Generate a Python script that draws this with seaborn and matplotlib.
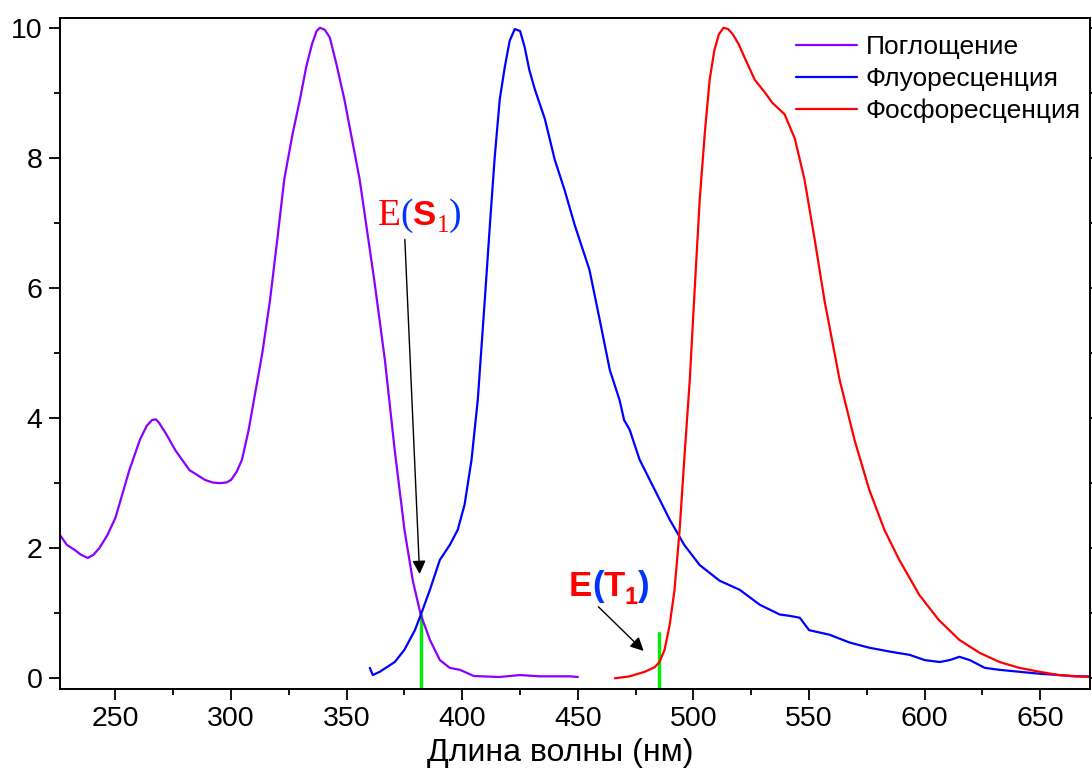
import matplotlib
matplotlib.use("Agg")
import matplotlib.pyplot as plt
import seaborn as sns
import pandas as pd

# ---- data ----
abs_x = [226, 229, 232.5, 235, 238, 240.5, 243, 246.5, 250, 256, 260.6, 263.5, 265.8, 267.5, 269,
         272, 276, 282, 288.7, 292, 295, 298, 300, 302.5, 304.7,
         307.5, 310, 313.5, 316.8, 320, 323, 326.5, 329.8, 332.5, 335, 337, 338.4, 340.5, 342.7,
         345.5, 349, 355.6, 362, 366.5, 370.8, 375, 378.6,
         382, 386, 390.3, 394.6, 399, 405, 416, 425, 433.6, 446.6, 450]
abs_y = [2.2, 2.05, 1.97, 1.9, 1.85, 1.9, 2.0, 2.2, 2.47, 3.2, 3.67, 3.88, 3.97, 3.98, 3.92,
         3.75, 3.5, 3.2, 3.05, 3.01, 3.0, 3.01, 3.05, 3.18, 3.36,
         3.8, 4.3, 5.0, 5.8, 6.75, 7.67, 8.35, 8.9, 9.4, 9.75, 9.95, 10.0, 9.97, 9.85,
         9.45, 8.9, 7.67, 6.1, 4.9, 3.5, 2.28, 1.5,
         0.98, 0.59, 0.28, 0.16, 0.13, 0.035, 0.02, 0.05, 0.03, 0.03, 0.02]

fl_x = [360, 361.3, 364.3, 370.8, 375, 379.5, 382.1, 386, 390.3, 394.6, 398, 401, 404, 406.7,
        409.7, 412, 414, 416.2, 418.4, 420.5, 422.7, 425, 427, 429, 431.4, 435.7, 440, 444.3, 448.6,
        455, 459.5, 463.8, 468, 470, 472.4, 476.7, 483.2, 489.7, 496, 502.7, 511.3, 520, 528.7,
        537.3, 541.6, 546, 550, 558.8, 567.5, 576, 585, 593.5, 600, 606.5, 610.8, 615, 619.5,
        626, 632.4, 641, 649.7, 658, 664.8, 671]
fl_y = [0.16, 0.05, 0.1, 0.25, 0.44, 0.74, 0.98, 1.36, 1.82, 2.05, 2.28, 2.67, 3.36, 4.28,
        5.8, 7.0, 8.0, 8.9, 9.4, 9.8, 9.98, 9.95, 9.7, 9.35, 9.05, 8.6, 7.97, 7.5, 6.97,
        6.28, 5.5, 4.74, 4.28, 3.97, 3.82, 3.36, 2.9, 2.44, 2.05, 1.74, 1.5, 1.36, 1.13,
        0.98, 0.96, 0.93, 0.74, 0.67, 0.55, 0.47, 0.41, 0.36, 0.28, 0.25, 0.28, 0.33, 0.28,
        0.16, 0.13, 0.1, 0.07, 0.05, 0.03, 0.03]

ph_x = [466, 472.4, 478.9, 483.2, 485.3, 487.5, 489.7, 491.8, 494, 496, 498.4, 500.5, 502.7,
        505, 507, 509, 511, 513, 515, 517, 519.5, 522, 526.5, 531, 534, 539.4, 543.8, 548, 552.4,
        556.7, 563.2, 569.6, 576, 582.6, 589, 597.7, 606, 615, 623.8, 632.4, 641, 649.7, 658, 671]
ph_y = [0.0, 0.03, 0.1, 0.17, 0.25, 0.44, 0.82, 1.36, 2.28, 3.36, 4.59, 5.97, 7.36,
        8.43, 9.2, 9.65, 9.9, 10.0, 9.98, 9.9, 9.75, 9.55, 9.2, 9.0, 8.85, 8.67, 8.3, 7.67, 6.75,
        5.8, 4.59, 3.67, 2.9, 2.28, 1.82, 1.28, 0.9, 0.59, 0.39, 0.25, 0.16, 0.1, 0.05, 0.02]

labels = ["Поглощение", "Флуоресценция", "Фосфоресценция"]
colors = ["#8a00ff", "#0000ff", "#ff0000"]

s1_x, s1_top = 382.0, 0.97
t1_x, t1_top = 485.0, 0.70

xticks = [250, 300, 350, 400, 450, 500, 550, 600, 650]
yticks = [0, 2, 4, 6, 8, 10]

# ---- figure ----
sns.set_theme(style="ticks")
plt.rcParams["font.family"] = ["Liberation Sans", "DejaVu Sans"]
for k in ["text.color", "axes.labelcolor", "xtick.color", "ytick.color", "axes.edgecolor"]:
    plt.rcParams[k] = "black"

fig = plt.figure(figsize=(10.92, 7.70), dpi=100)
ax = fig.add_axes([60 / 1092, 1 - 688.7 / 770, 1030 / 1092, 670.7 / 770])

frames = []
for lab, xs, ys in zip(labels, [abs_x, fl_x, ph_x], [abs_y, fl_y, ph_y]):
    frames.append(pd.DataFrame({"x": xs, "y": ys, "series": lab}))
df = pd.concat(frames, ignore_index=True)
sns.lineplot(data=df, x="x", y="y", hue="series", hue_order=labels,
             palette=colors, linewidth=1.6, sort=False, estimator=None, ax=ax)

ax.set_xlim(226, 671.5)
ax.set_ylim(-0.16, 10.15)

# green markers
ax.plot([s1_x, s1_x], [-0.16, s1_top], color="#00ee00", lw=2.4, zorder=1)
ax.plot([t1_x, t1_x], [-0.16, t1_top], color="#00ee00", lw=2.4, zorder=1)

# arrows
ax.annotate("", xy=(381.6, 1.56), xytext=(375.1, 6.79),
            arrowprops=dict(arrowstyle="-|>", color="black", lw=1.0, mutation_scale=20))
ax.annotate("", xy=(479.3, 0.39), xytext=(458.0, 1.13),
            arrowprops=dict(arrowstyle="-|>", color="black", lw=1.0, mutation_scale=20))

# ticks
ax.set_xticks(xticks)
ax.set_yticks(yticks)
ax.set_xticks([275, 325, 375, 425, 475, 525, 575, 625], minor=True)
ax.set_yticks([1, 3, 5, 7, 9], minor=True)
ax.tick_params(which="major", direction="out", length=7.7, width=1.3, labelsize=20.5,
               right=True, labelright=False, top=False, pad=5)
ax.tick_params(which="minor", direction="out", length=4.3, width=1.3,
               right=True, top=False)
for sp in ax.spines.values():
    sp.set_visible(True)
    sp.set_linewidth(1.4)
    sp.set_color("black")

ax.set_xlabel("Длина волны (нм)", fontsize=23)
ax.xaxis.set_label_coords(0.486, -0.074)
ax.set_ylabel("")

leg = ax.legend(loc="upper right", frameon=False, fontsize=19, handlelength=2.3,
                handletextpad=0.35, labelspacing=0.3, bbox_to_anchor=(1.008, 1.0),
                borderaxespad=0.25)
for line in leg.get_lines():
    line.set_linewidth(1.6)

# colored labels
fig.canvas.draw()
renderer = fig.canvas.get_renderer()


def colored_text(x, y, parts):
    xd, yd = ax.transData.transform((x, y))
    for s, props, dy in parts:
        t = ax.text(xd, yd + dy, s, transform=None, ha="left", va="baseline", **props)
        bb = t.get_window_extent(renderer)
        xd = bb.x1


serif = dict(family="Liberation Serif")
colored_text(363.5, 6.97, [
    ("E", dict(color="red", fontsize=27, **serif), 0),
    ("(", dict(color="#0033ff", fontsize=27, **serif), 0),
    ("S", dict(color="red", fontsize=25, fontweight="bold", family="Liberation Sans"), 0),
    ("1", dict(color="red", fontsize=18, **serif), -7),
    (")", dict(color="#0033ff", fontsize=27, **serif), 0),
])
bold = dict(fontweight="bold", family="Liberation Sans")
colored_text(446.1, 1.27, [
    ("E", dict(color="red", fontsize=25, **bold), 0),
    ("(", dict(color="#0033ff", fontsize=25, **bold), 0),
    ("T", dict(color="red", fontsize=25, **bold), 0),
    ("1", dict(color="red", fontsize=17, **bold), -8),
    (")", dict(color="#0033ff", fontsize=25, **bold), 0),
])

fig.savefig("out.png", dpi=100)
